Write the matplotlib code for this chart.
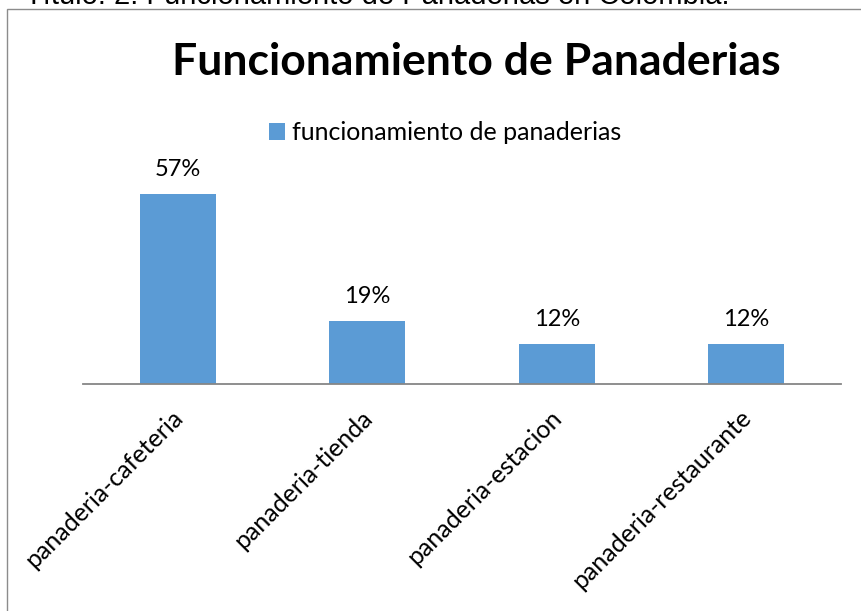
import matplotlib

matplotlib.use("Agg")
import matplotlib.pyplot as plt
from matplotlib.patches import Patch, Rectangle
from matplotlib.transforms import offset_copy

categories = ["panaderia-cafeteria", "panaderia-tienda", "panaderia-estacion", "panaderia-restaurante"]
values = [57, 19, 12, 12]
value_labels = ["57%", "19%", "12%", "12%"]
series_name = "funcionamiento de panaderias"
chart_title = "Funcionamiento de Panaderias"
caption = "Título: 2. Funcionamiento de Panaderias en Colombia."

BAR_COLOUR = "#5b9bd5"
AXIS_COLOUR = "#868686"
FONT = ["Lato", "DejaVu Sans"]

W, H = 861, 611
fig = plt.figure(figsize=(W / 100, H / 100), dpi=100)
fig.patch.set_facecolor("white")

# plot area in pixel terms: x 83..841, baseline at y=384
ax = fig.add_axes([83 / W, (H - 384) / H, (841 - 83) / W, 233 / H])
x = range(len(categories))
bars = ax.bar(x, values, width=0.4, color=BAR_COLOUR, zorder=2)
ax.set_xlim(-0.5, len(categories) - 0.5)
ax.set_ylim(0, 70)
for side in ("left", "right", "top"):
    ax.spines[side].set_visible(False)
ax.spines["bottom"].set_color(AXIS_COLOUR)
ax.spines["bottom"].set_linewidth(1.3)
ax.set_yticks([])
ax.set_xticks(list(x))
ax.set_xticklabels([])
ax.tick_params(axis="x", length=0)

ax.bar_label(bars, labels=value_labels, padding=10, fontsize=17, family=FONT, color="#000000")

# rotated category labels, right end just under each bar
for i, name in enumerate(categories):
    tr = offset_copy(ax.get_xaxis_transform(), fig=fig, x=1, y=-30, units="dots")
    ax.text(i, 0, name, transform=tr, rotation=45, rotation_mode="anchor",
            ha="right", va="center", fontsize=18, family=FONT, clip_on=False)

# chart border (runs off the right and bottom edges)
fig.patches.append(Rectangle((7 / W, -0.1), 1.2, (H - 9) / H + 0.1, transform=fig.transFigure,
                             fill=False, edgecolor="#8c8c8c", linewidth=1.0))

fig.text(476 / W, 1 - 75 / H, chart_title, ha="center", va="baseline",
         fontsize=32, weight="bold", family=FONT)

fig.legend(handles=[Patch(facecolor=BAR_COLOUR, label=series_name)], loc="center",
           bbox_to_anchor=(445 / W, 1 - 133 / H), frameon=False, handlelength=0.65,
           handleheight=0.65, handletextpad=0.25, borderpad=0,
           prop={"family": FONT, "size": 18})

fig.text(25 / W, 1 - 4 / H, caption, ha="left", va="baseline", fontsize=21,
         family=["Liberation Sans", "DejaVu Sans"])

fig.savefig("out.png", dpi=100)
